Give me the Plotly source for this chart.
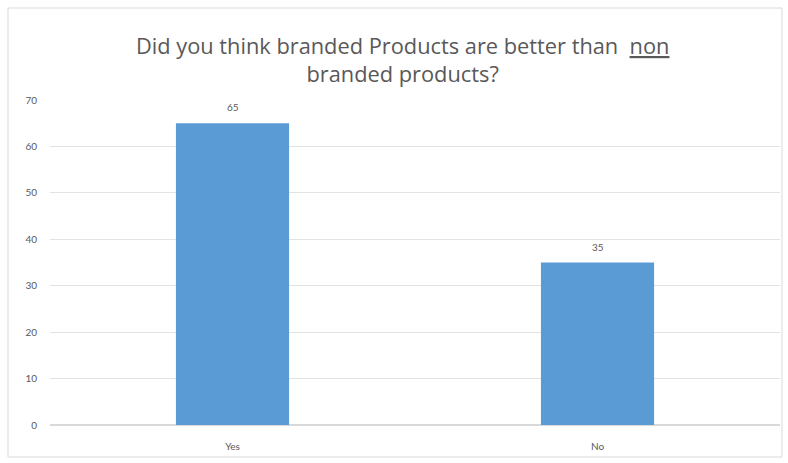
import plotly.graph_objects as go

# Survey answers
answers = ["Yes", "No"]
counts = [65, 35]
y_ticks = [0, 10, 20, 30, 40, 50, 60, 70]

bar_color = "#5b9bd5"
grid_color = "#e3e3e3"
text_color = "#595959"

fig = go.Figure(
    go.Bar(
        x=answers,
        y=counts,
        width=0.31,
        marker=dict(color=bar_color, line=dict(width=0)),
        hoverinfo="x+y",
    )
)

# Value labels above each bar
for a, c in zip(answers, counts):
    fig.add_annotation(
        x=a,
        y=c,
        text=str(c),
        showarrow=False,
        yanchor="bottom",
        yshift=8,
        font=dict(size=10, color=text_color, family="Lato"),
    )

fig.update_layout(
    width=788,
    height=463,
    margin=dict(l=50, r=8, t=100, b=38),
    paper_bgcolor="white",
    plot_bgcolor="white",
    showlegend=False,
    font=dict(family="Lato", color=text_color),
    title=dict(
        text="Did you think branded Products are better than  <u>non</u><br>branded products?",
        x=0.511,
        xanchor="center",
        y=1 - 54 / 463,
        yanchor="middle",
        yref="container",
        font=dict(size=21.8, color=text_color, family="Open Sans"),
    ),
)

fig.update_yaxes(
    range=[0, 70],
    tickvals=y_ticks,
    showgrid=True,
    gridcolor=grid_color,
    gridwidth=1,
    zeroline=True,
    zerolinecolor="#d9d9d9",
    showline=False,
    ticks="",
    ticklabelstandoff=12,
    tickfont=dict(size=10, color=text_color),
)
fig.update_xaxes(
    showline=False,
    ticks="",
    ticklabelstandoff=14,
    tickfont=dict(size=10, color=text_color),
)

# Outer chart border
fig.add_shape(
    type="rect",
    xref="paper",
    yref="paper",
    x0=(8 - 50) / 730,
    x1=(782 - 50) / 730,
    y0=(425 - 457) / 325,
    y1=(425 - 8) / 325,
    line=dict(color="#d9d9d9", width=1),
    fillcolor="rgba(0,0,0,0)",
    layer="below",
)

fig.write_html("out.html")
